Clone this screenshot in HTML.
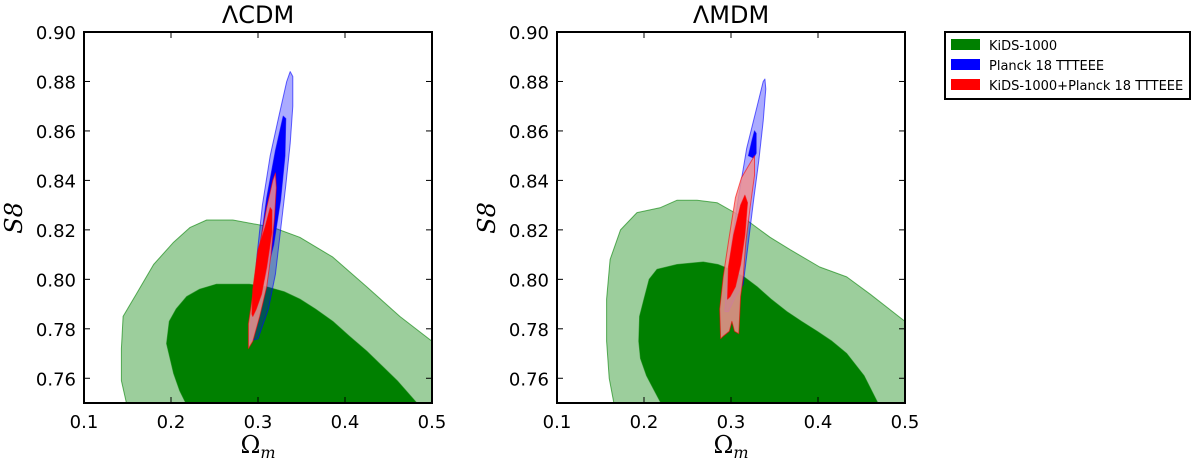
<!DOCTYPE html>
<html><head><meta charset="utf-8"><style>
body{margin:0;background:#fff;}
svg text{font-family:"DejaVu Sans","Liberation Sans",sans-serif;}
svg text.serif{font-family:"DejaVu Serif","Liberation Serif",serif;}
</style></head><body>
<svg id="c" width="1200" height="466" viewBox="0 0 1200 466" xmlns="http://www.w3.org/2000/svg">
<defs>
<clipPath id="clipL"><rect x="84" y="32" width="348" height="371"/></clipPath>
<clipPath id="clipR"><rect x="557" y="32" width="348" height="371"/></clipPath>
</defs>
<g>
<rect x="945" y="32" width="245" height="67" fill="#fff" stroke="#000" stroke-width="2"/>
<rect x="951" y="39" width="29" height="11" fill="#008000"/>
<text x="989" y="50" font-size="13">KiDS-1000</text>
<rect x="951" y="59" width="29" height="11" fill="#0000ff"/>
<text x="989" y="70" font-size="13">Planck 18 TTTEEE</text>
<rect x="951" y="79" width="29" height="11" fill="#ff0000"/>
<text x="989" y="90" font-size="13">KiDS-1000+Planck 18 TTTEEE</text>
</g>
</svg>
<script>
const xTicks=[0.1,0.2,0.3,0.4,0.5];
const yTicks=[0.76,0.78,0.80,0.82,0.84,0.86,0.88,0.90];
const titles=["ΛCDM","ΛMDM"];
// contours [Omega_m, S8]
const kidsOuterL=[[0.152,0.745],[0.143,0.759],[0.143,0.772],[0.145,0.785],[0.160,0.794],[0.180,0.806],[0.203,0.815],[0.222,0.821],[0.241,0.824],[0.271,0.824],[0.317,0.821],[0.348,0.817],[0.386,0.809],[0.425,0.797],[0.463,0.785],[0.5,0.775],[0.51,0.772],[0.51,0.745]];
const kidsInnerL=[[0.224,0.745],[0.210,0.755],[0.203,0.762],[0.195,0.774],[0.198,0.783],[0.206,0.788],[0.218,0.793],[0.233,0.796],[0.252,0.798],[0.271,0.798],[0.290,0.798],[0.310,0.797],[0.330,0.795],[0.348,0.792],[0.366,0.788],[0.386,0.783],[0.405,0.777],[0.425,0.771],[0.460,0.759],[0.495,0.745]];
const planckOuterL=[[0.290,0.775],[0.294,0.790],[0.299,0.810],[0.305,0.830],[0.314,0.850],[0.324,0.866],[0.333,0.880],[0.337,0.884],[0.340,0.882],[0.340,0.870],[0.337,0.855],[0.332,0.838],[0.326,0.820],[0.320,0.802],[0.312,0.788],[0.300,0.776]];
const planckInnerL=[[0.299,0.800],[0.303,0.815],[0.310,0.833],[0.320,0.852],[0.329,0.866],[0.332,0.865],[0.331,0.850],[0.326,0.832],[0.318,0.814],[0.308,0.800],[0.301,0.798]];
const combOuterL=[[0.289,0.782],[0.294,0.794],[0.300,0.810],[0.310,0.829],[0.317,0.840],[0.320,0.843],[0.321,0.837],[0.319,0.825],[0.315,0.810],[0.310,0.797],[0.302,0.785],[0.294,0.775],[0.289,0.772]];
const combInnerL=[[0.293,0.786],[0.294,0.796],[0.300,0.812],[0.308,0.821],[0.314,0.829],[0.316,0.828],[0.316,0.819],[0.310,0.805],[0.304,0.794],[0.298,0.788],[0.294,0.785]];
const kidsOuterR=[[0.168,0.745],[0.160,0.760],[0.157,0.775],[0.157,0.792],[0.161,0.808],[0.173,0.820],[0.192,0.827],[0.219,0.829],[0.238,0.832],[0.261,0.832],[0.284,0.831],[0.314,0.825],[0.345,0.817],[0.368,0.812],[0.402,0.805],[0.433,0.801],[0.460,0.794],[0.5,0.783],[0.51,0.780],[0.51,0.745]];
const kidsInnerR=[[0.227,0.745],[0.212,0.755],[0.203,0.761],[0.196,0.768],[0.194,0.775],[0.195,0.785],[0.200,0.792],[0.206,0.800],[0.215,0.804],[0.238,0.806],[0.268,0.807],[0.285,0.806],[0.299,0.804],[0.315,0.801],[0.330,0.797],[0.346,0.792],[0.364,0.787],[0.381,0.783],[0.399,0.779],[0.416,0.775],[0.433,0.770],[0.453,0.761],[0.476,0.745]];
const planckOuterR=[[0.293,0.787],[0.295,0.798],[0.301,0.815],[0.309,0.834],[0.318,0.853],[0.330,0.870],[0.337,0.880],[0.339,0.881],[0.340,0.877],[0.337,0.864],[0.332,0.848],[0.326,0.832],[0.320,0.815],[0.314,0.798],[0.305,0.793],[0.297,0.787]];
const planckInnerR=[[0.320,0.850],[0.324,0.856],[0.327,0.860],[0.329,0.859],[0.329,0.851],[0.326,0.849]];
const combOuterR=[[0.288,0.776],[0.287,0.788],[0.291,0.801],[0.297,0.815],[0.305,0.833],[0.312,0.841],[0.322,0.847],[0.327,0.850],[0.327,0.842],[0.322,0.829],[0.317,0.815],[0.314,0.801],[0.311,0.793],[0.309,0.778],[0.304,0.779],[0.301,0.783],[0.298,0.779],[0.291,0.777]];
const combInnerR=[[0.296,0.792],[0.297,0.805],[0.303,0.818],[0.311,0.830],[0.316,0.834],[0.319,0.831],[0.316,0.818],[0.311,0.806],[0.305,0.797],[0.299,0.793]];

const NS="http://www.w3.org/2000/svg";
const svg=document.getElementById('c');
function mk(t,a,parent){const e=document.createElementNS(NS,t);for(const k in a)e.setAttribute(k,a[k]);(parent||svg).appendChild(e);return e;}
function poly(pts){return "M"+pts.map(p=>p[0].toFixed(1)+","+p[1].toFixed(1)).join("L")+"Z";}
function panel(x0,clip,title,sets){
 const W=348,top=32,bot=403;
 const sx=v=>x0+(v-0.1)/0.4*W, sy=v=>bot-(v-0.75)/0.15*(bot-top);
 const g=mk('g',{});
 
 
 const cg=mk('g',{'clip-path':'url(#'+clip+')'},g);
 sets.forEach(s=>{const p=mk('path',{d:poly(s.pts.map(q=>[sx(q[0]),sy(q[1])])),fill:s.fill,'fill-opacity':s.op,stroke:s.stroke,'stroke-width':1,'stroke-opacity':0.6,'stroke-linejoin':'round'},cg);
  
  });
 mk('rect',{x:x0,y:top,width:W,height:bot-top,fill:'none',stroke:'#000','stroke-width':2},g);
 xTicks.forEach(v=>{const x=sx(v);mk('line',{x1:x,x2:x,y1:bot,y2:bot-6,stroke:'#000'},g);mk('line',{x1:x,x2:x,y1:top,y2:top+6,stroke:'#000'},g);
  const t=mk('text',{x:x,y:428,'font-size':18,'text-anchor':'middle'},g);t.textContent=v.toFixed(1);
  
  });
 yTicks.forEach(v=>{const y=sy(v);mk('line',{x1:x0,x2:x0+6,y1:y,y2:y,stroke:'#000'},g);mk('line',{x1:x0+W,x2:x0+W-6,y1:y,y2:y,stroke:'#000'},g);
  const t=mk('text',{x:x0-8,y:y+7,'font-size':18,'text-anchor':'end'},g);t.textContent=v.toFixed(2);
  
  });
 const tt=mk('text',{x:x0+W/2,y:23,'font-size':24,'text-anchor':'middle'},g);tt.textContent=title;
 
 
 const xl=mk('text',{x:x0+W/2,y:453,'font-size':24,'text-anchor':'middle','class':'serif'},g);
 xl.innerHTML='Ω<tspan font-style="italic" font-size="16" dy="5">m</tspan>';
 
 
 const yl=mk('text',{x:0,y:0,'font-size':24,'text-anchor':'middle','class':'serif','font-style':'italic',transform:'translate('+(x0-62)+',218) rotate(-90)'},g);
 yl.textContent='S8';
 
 
}
panel(84,'clipL',titles[0],[
 {pts:kidsOuterL,fill:'#008000',op:0.39,stroke:'#008000',name:'kids-outer-contour'},
 {pts:kidsInnerL,fill:'#008000',op:1,stroke:'#008000',name:'kids-inner-contour'},
 {pts:planckOuterL,fill:'#0000ff',op:0.33,stroke:'#0000ff',name:'planck-outer-contour'},
 {pts:planckInnerL,fill:'#0000ff',op:1,stroke:'#0000ff',name:'planck-inner-contour'},
 {pts:combOuterL,fill:'#f09090',op:0.85,stroke:'#ff0000',name:'combined-outer-contour'},
 {pts:combInnerL,fill:'#ff0000',op:1,stroke:'#ff0000',name:'combined-inner-contour'}]);
panel(557,'clipR',titles[1],[
 {pts:kidsOuterR,fill:'#008000',op:0.39,stroke:'#008000',name:'kids-outer-contour'},
 {pts:kidsInnerR,fill:'#008000',op:1,stroke:'#008000',name:'kids-inner-contour'},
 {pts:planckOuterR,fill:'#0000ff',op:0.33,stroke:'#0000ff',name:'planck-outer-contour'},
 {pts:planckInnerR,fill:'#0000ff',op:1,stroke:'#0000ff',name:'planck-inner-contour'},
 {pts:combOuterR,fill:'#f09090',op:0.85,stroke:'#ff0000',name:'combined-outer-contour'},
 {pts:combInnerR,fill:'#ff0000',op:1,stroke:'#ff0000',name:'combined-inner-contour'}]);
</script>
</body></html>
